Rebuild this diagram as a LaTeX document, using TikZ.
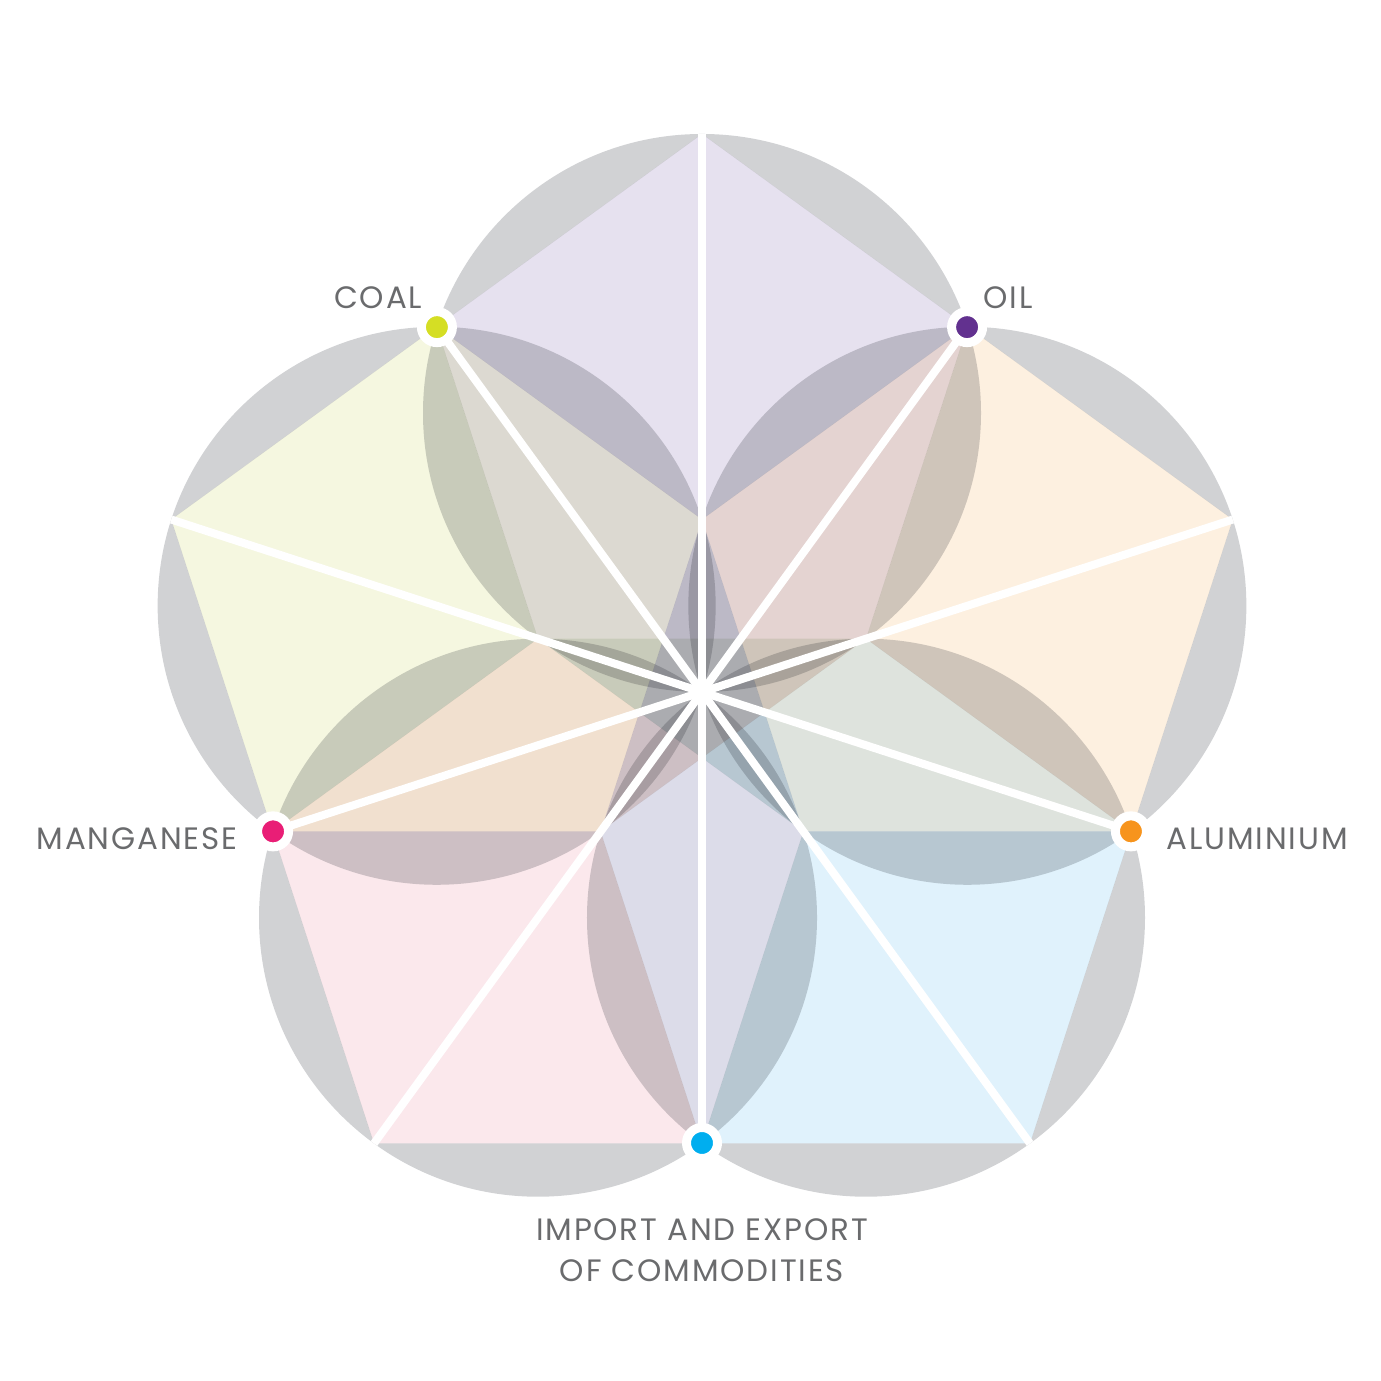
\documentclass[tikz,border=0pt]{standalone}
\usepackage{fontspec}
\setmainfont{Poppins}[LetterSpace=6]
\usepackage{xcolor}
\usetikzlibrary{positioning,calc}

\definecolor{ringgray}{HTML}{D1D2D4}
\definecolor{lavender}{HTML}{E6E1EF}
\definecolor{peach}{HTML}{FDF0E0}
\definecolor{skyblue}{HTML}{E0F2FC}
\definecolor{rosepink}{HTML}{FBE8EC}
\definecolor{lime}{HTML}{F5F7E0}
\definecolor{coalc}{HTML}{D5DE24}
\definecolor{oilc}{HTML}{62318F}
\definecolor{aluc}{HTML}{F7941D}
\definecolor{impc}{HTML}{00AEEF}
\definecolor{mangc}{HTML}{E91E76}
\definecolor{labelgray}{HTML}{6A6B6D}

\tikzset{
  spoke/.style={white, line width=0.08cm},
  dot/.style={circle, draw=white, line width=0.09cm, minimum size=0.31cm, inner sep=0pt},
  lbl/.style={text=labelgray, font=\fontsize{8.8}{11.6}\selectfont, inner sep=0pt},
}

\begin{document}
\begin{tikzpicture}
    \useasboundingbox (-7.02,-6.89) rectangle (6.79,6.92);

    % Petals: gray circle with tinted pentagon, multiplied
    \begin{scope}[blend mode=multiply]
    \foreach \a/\tint in {90/lavender,18/peach,-54/skyblue,-126/rosepink,162/lime}{
        \begin{scope}[shift={(\a:2.79)}]
            \fill[ringgray, even odd rule] (0,0) circle (2.79)
                (\a:2.79) -- (\a+72:2.79) -- (\a+144:2.79) -- (\a+216:2.79) -- (\a+288:2.79) -- cycle;
            \fill[\tint] (\a:2.79) -- (\a+72:2.79) -- (\a+144:2.79) -- (\a+216:2.79) -- (\a+288:2.79) -- cycle;
        \end{scope}
    }
    \end{scope}

    % Outer tips and commodity points
    \coordinate (tipN) at (90:5.58);
    \coordinate (tipE) at (18:5.58);
    \coordinate (tipSE) at (-54:5.58);
    \coordinate (tipSW) at (-126:5.58);
    \coordinate (tipW) at (162:5.58);
    \coordinate (pOil) at (54:4.51);
    \coordinate (pAlu) at (-18:4.51);
    \coordinate (pImp) at (-90:4.51);
    \coordinate (pMang) at (198:4.51);
    \coordinate (pCoal) at (126:4.51);

    % Spokes
    \draw[spoke] (pOil) -- (tipSW);
    \draw[spoke] (pAlu) -- (tipW);
    \draw[spoke] (pImp) -- (tipN);
    \draw[spoke] (pMang) -- (tipE);
    \draw[spoke] (pCoal) -- (tipSE);

    % Dots
    \node[dot, fill=coalc] (coal) at (pCoal) {};
    \node[dot, fill=oilc] (oil) at (pOil) {};
    \node[dot, fill=aluc] (alu) at (pAlu) {};
    \node[dot, fill=impc] (imp) at (pImp) {};
    \node[dot, fill=mangc] (mang) at (pMang) {};

    % Labels
    \node[lbl, anchor=base east] (coalLbl) at ($(coal)+(-0.14,0.19)$) {COAL};
    \node[lbl, anchor=base west] (oilLbl) at ($(oil)+(0.16,0.19)$) {OIL};
    \node[lbl, anchor=base east] (mangLbl) at ($(mang)+(-0.35,-0.18)$) {MANGANESE};
    \node[lbl, anchor=base west] (aluLbl) at ($(alu)+(0.35,-0.18)$) {ALUMINIUM};
    \node[lbl, anchor=north, align=center] (impLbl) at ($(imp)+(0,-0.75)$) {IMPORT AND EXPORT\\OF COMMODITIES};
\end{tikzpicture}
\end{document}
